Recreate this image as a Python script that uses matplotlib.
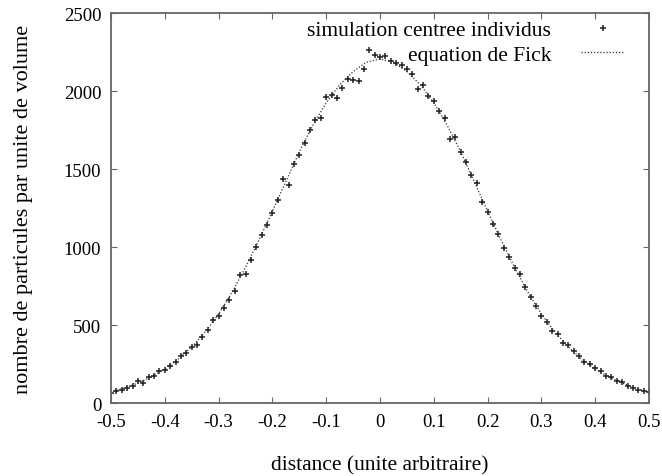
import numpy as np
import matplotlib
matplotlib.use("Agg")
import matplotlib.pyplot as plt

# positions des particules (simulation) : x de -0.5 a 0.5, pas de 0.01
x_sim = [round(-0.5 + 0.01 * i, 2) for i in range(101)]
n_sim = [
    62, 75, 84, 96, 112, 140, 128, 165, 172, 205,
    212, 238, 262, 300, 318, 356, 372, 425, 470, 530,
    555, 610, 660, 720, 820, 830, 915, 1000, 1075, 1140,
    1215, 1300, 1436, 1400, 1530, 1590, 1665, 1750, 1815, 1830,
    1960, 1975, 1958, 2020, 2075, 2068, 2062, 2140, 2265, 2230,
    2215,
    2225, 2190, 2180, 2168, 2140, 2110, 2015, 2040, 1965, 1935,
    1875, 1830, 1690, 1705, 1612, 1545, 1460, 1410, 1290, 1225,
    1145, 1085, 995, 935, 865, 830, 745, 680, 625, 560,
    520, 462, 440, 385, 372, 335, 300, 262, 248, 222,
    205, 170, 165, 140, 132, 112, 98, 85, 75, 70,
]

# equation de Fick (pas de 0.025)
x_fick = [round(-0.5 + 0.025 * i, 3) for i in range(41)]
n_fick = [
    70, 96, 128, 168, 218, 282, 360, 455, 570, 710,
    870, 1045, 1230, 1420, 1610, 1780, 1925, 2040, 2125, 2185,
    2205,
    2185, 2125, 2040, 1925, 1780, 1610, 1420, 1230, 1045, 870,
    710, 570, 455, 360, 282, 218, 168, 128, 96, 70,
]

plt.rcParams["font.family"] = ["Liberation Serif", "DejaVu Serif"]

fig = plt.figure(figsize=(6.62, 4.77), dpi=100)
ax = fig.add_axes([0.1677, 0.153, 0.8127, 0.8176])

ax.plot(x_sim, n_sim, linestyle="none", marker="+", markersize=5,
        markeredgewidth=1.1, color="#222222",
        label="simulation centree individus")
ax.plot(x_fick, n_fick, linestyle=(0, (1, 1.5)), linewidth=0.9,
        color="#333333", label="equation de Fick")

ax.set_xlim(-0.5, 0.5)
ax.set_ylim(0, 2500)
ax.set_xticks(np.arange(-0.5, 0.51, 0.1))
ax.set_xticklabels(["-0.5", "-0.4", "-0.3", "-0.2", "-0.1", "0",
                    "0.1", "0.2", "0.3", "0.4", "0.5"])
ax.set_yticks([0, 500, 1000, 1500, 2000, 2500])

ax.tick_params(direction="in", length=4, width=0.8, color="#666666",
               top=True, right=True, labelsize=13.5, pad=7)
for s in ax.spines.values():
    s.set_color("#666666")
    s.set_linewidth(1.3)

ax.set_xlabel("distance (unite arbitraire)", fontsize=15.5, labelpad=18)
ax.set_ylabel("nombre de particules par unite de volume", fontsize=16,
              labelpad=22)

ax.legend(loc="upper right", frameon=False, markerfirst=False, fontsize=15.5,
          handlelength=2.0, handletextpad=1.4, labelspacing=0.2,
          borderaxespad=0.0, bbox_to_anchor=(0.97, 1.004))

fig.savefig("out.png", dpi=100)
